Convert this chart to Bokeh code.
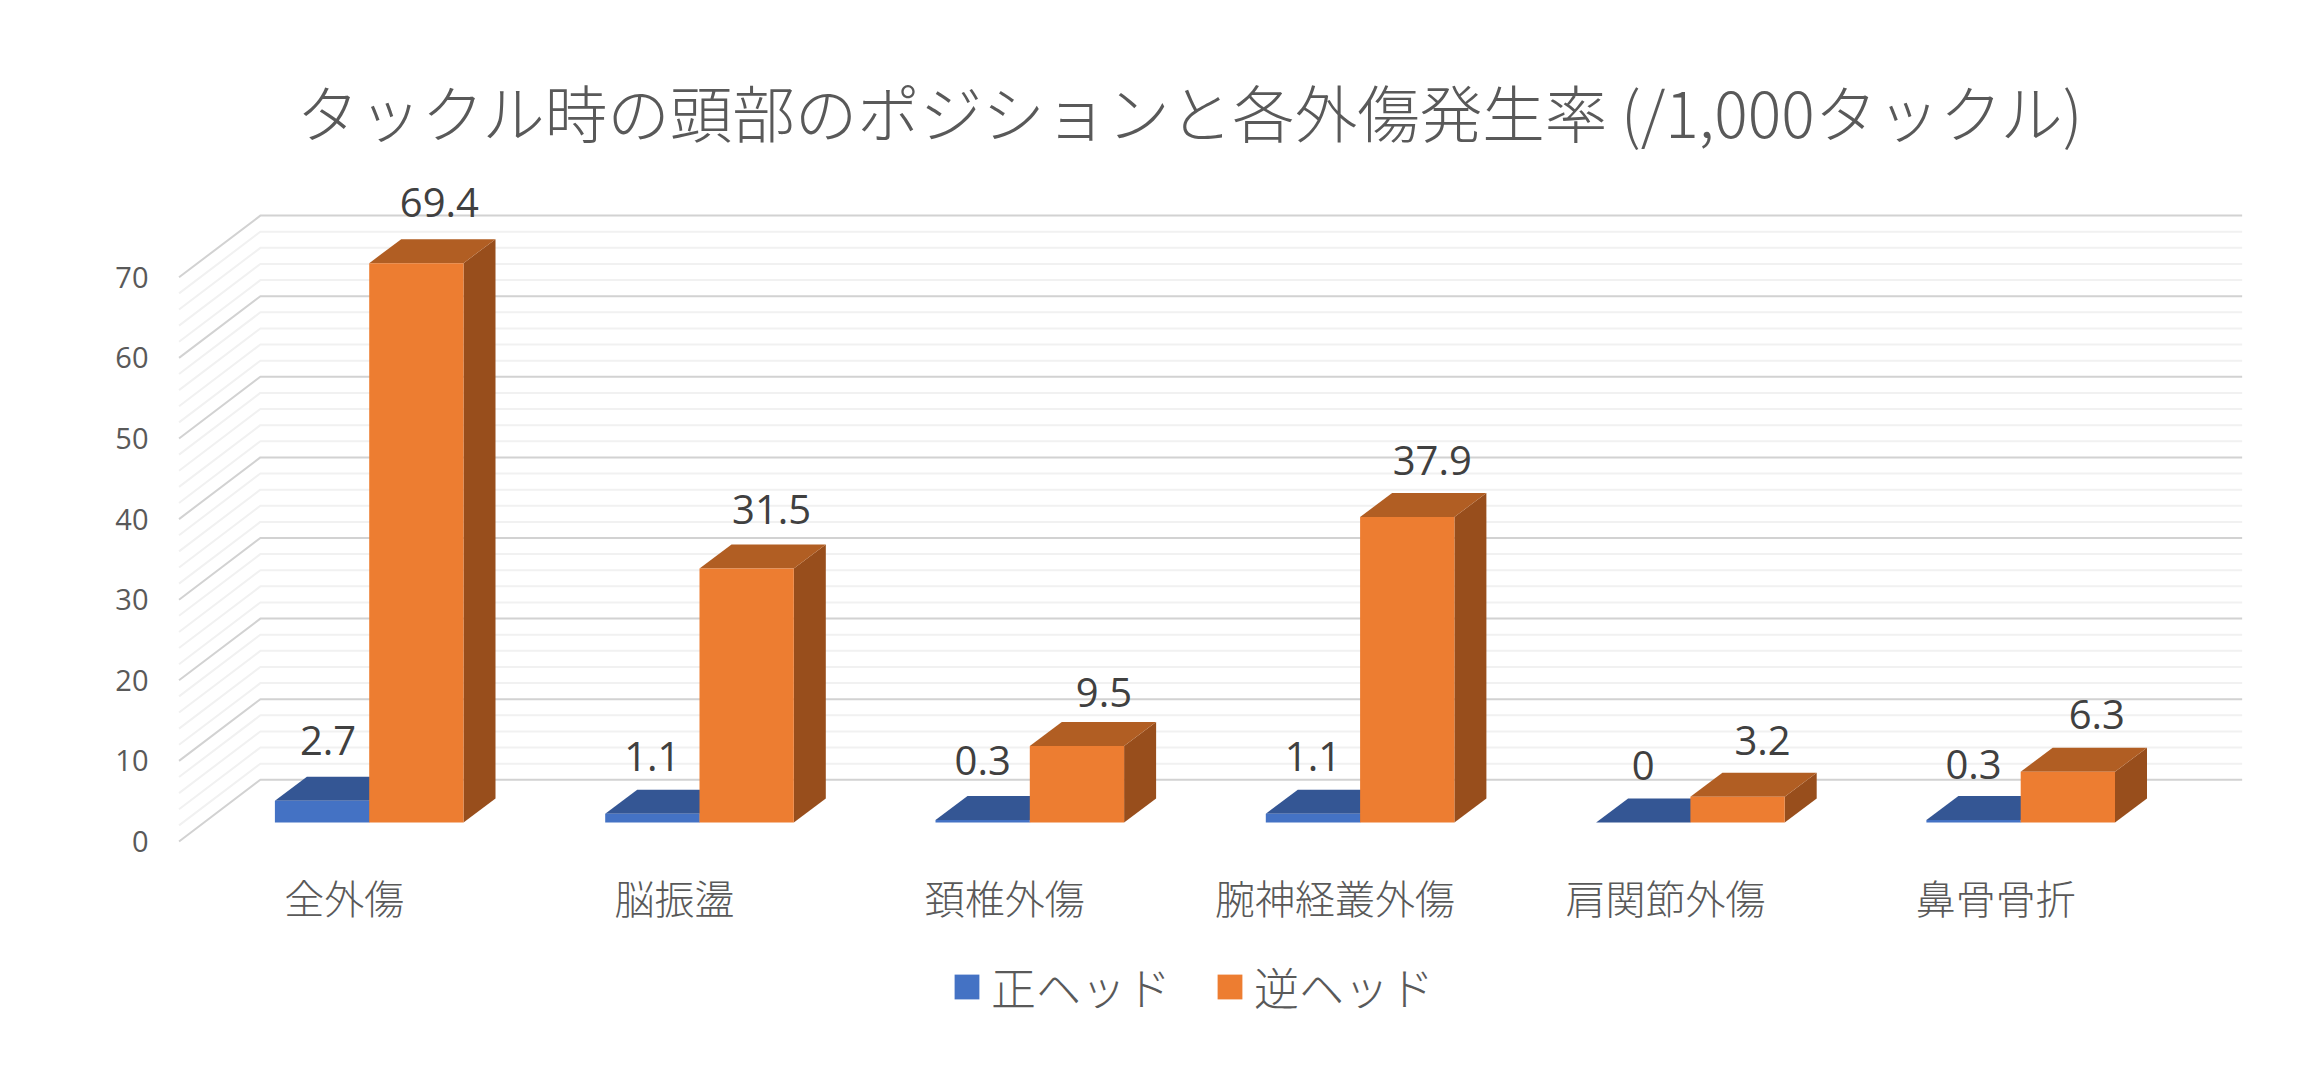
from bokeh.plotting import figure
from bokeh.models import Range1d, LinearAxis, FixedTicker, Legend, LegendItem, ColumnDataSource
from bokeh.core.properties import value
from bokeh.embed import file_html
from bokeh.resources import INLINE

# ---- data ----
TITLE = "タックル時の頭部のポジションと各外傷発生率 (/1,000タックル)"
categories = ["全外傷", "脳振盪", "頚椎外傷", "腕神経叢外傷", "肩関節外傷", "鼻骨骨折"]
series_names = ["正ヘッド", "逆ヘッド"]
forward_head = [2.7, 1.1, 0.3, 1.1, 0.0, 0.3]
reverse_head = [69.4, 31.5, 9.5, 37.9, 3.2, 6.3]
major_ticks = [0, 10, 20, 30, 40, 50, 60, 70]
minor_ticks = [v for v in range(0, 71, 2) if v % 10 != 0]

# ---- style / projection ----
BLUE, BLUE_TOP = "#4472C4", "#345694"
ORANGE, ORANGE_TOP, ORANGE_SIDE = "#ED7D31", "#B15E23", "#984E1C"
CJK = "Noto Sans CJK JP"
LATIN = "Open Sans"
PX_CAT, PX_VAL = 330.3, 8.06          # px per category, px per value unit
X0_REF, Y0_REF = 368.7, 822.0         # page position of category 0 / value 0 on the bars' front plane
F_L, F_R, F_T, F_B = 160, 2271, 165, 1045   # frame on the page
BAR_W = 94.3 / PX_CAT


def dx(px):
    return px / PX_CAT


def dy(px):
    return px / PX_VAL


x_rng = Range1d((F_L - X0_REF) / PX_CAT, (F_R - X0_REF) / PX_CAT)
y_rng = Range1d((Y0_REF - F_B) / PX_VAL, (Y0_REF - F_T) / PX_VAL)

p = figure(frame_width=F_R - F_L, frame_height=F_B - F_T, x_range=x_rng, y_range=y_rng, output_backend="svg",
           toolbar_location=None, tools="", x_axis_location=None, y_axis_location=None,
           min_border_left=F_L, min_border_right=12, min_border_top=F_T,
           min_border_bottom=16, outline_line_color=None, background_fill_color="white")
p.grid.visible = False

p.title.text = TITLE
p.title.text_font = CJK + " Light, " + CJK
p.title.text_font_size = "62.5px"
p.title.text_font_style = "normal"
p.title.text_color = "#595959"
p.title.align = "left"
p.title.offset = 136
p.title.standoff = 20

# ---- walls: gridlines on side wall + back wall ----
BACK_DX, BACK_DY = dx(56.3), dy(42.7)
FRONT_DX, FRONT_DY = dx(-25.0), dy(-19.0)


def wall(ticks, color):
    xs, ys = [], []
    for v in ticks:
        xl = -0.5 + FRONT_DX
        xb = -0.5 + BACK_DX
        xs.append([xl, xb, xb + 6])
        ys.append([v + FRONT_DY, v + BACK_DY, v + BACK_DY])
    p.multi_line(xs, ys, line_color=color, line_width=2)


wall(minor_ticks, "#F1F1F1")
wall(major_ticks, "#D2D2D2")

# ---- 3-D bars ----
D_X, D_Y = dx(32), dy(24)


def bar_parts(values, left_shift):
    left = [i + left_shift for i in range(len(values))]
    right = [l + BAR_W for l in left]
    front = dict(l=left, r=right, t=list(values), b=[0] * len(values))
    top = ([[l, r, r + D_X, l + D_X] for l, r in zip(left, right)],
           [[v, v, v + D_Y, v + D_Y] for v in values])
    side = ([[r, r + D_X, r + D_X, r] for r in right],
            [[0, D_Y, v + D_Y, v] for v in values])
    return front, top, side


fb, tb, sb = bar_parts(forward_head, -BAR_W)
fo, to, so = bar_parts(reverse_head, 0)

p.patches(sb[0], sb[1], fill_color="#2A4A80", line_color=None)
p.patches(tb[0], tb[1], fill_color=BLUE_TOP, line_color=None)
blue_r = p.quad(left=fb["l"], right=fb["r"], top=fb["t"], bottom=fb["b"], fill_color=BLUE, line_color=None)
p.patches(so[0], so[1], fill_color=ORANGE_SIDE, line_color=None)
p.patches(to[0], to[1], fill_color=ORANGE_TOP, line_color=None)
orange_r = p.quad(left=fo["l"], right=fo["r"], top=fo["t"], bottom=fo["b"], fill_color=ORANGE, line_color=None)

# ---- data labels ----
blue_nudge_x = [6, 0, 0, 0, 0, 0]
orange_nudge_x = [-2, 0, 2, 0, 0, 4]
blue_lift = [36, 33, 36, 33, 33, 32]
orange_lift = [37, 35, 29, 33, 32, 33]
lab_x = [i - BAR_W / 2 for i in range(6)] + [i + BAR_W / 2 + dx(25) for i in range(6)]
lab_y = [v + D_Y for v in forward_head] + [v + D_Y for v in reverse_head]
lab_t = [f"{v:g}" for v in forward_head] + [f"{v:g}" for v in reverse_head]
x_off = blue_nudge_x + orange_nudge_x
y_off = [-n for n in blue_lift] + [-n for n in orange_lift]
src = ColumnDataSource(dict(x=lab_x, y=lab_y, t=lab_t, xo=x_off, yo=y_off))
p.text("x", "y", text="t", source=src, x_offset="xo", y_offset="yo", text_align="center",
       text_baseline="alphabetic", text_font=value(LATIN), text_font_size="40px", text_color="#404040")

# ---- axes (on the floor's front plane) ----
p.extra_y_ranges["front"] = Range1d(y_rng.start - FRONT_DY, y_rng.end - FRONT_DY)
p.extra_x_ranges["front"] = Range1d(x_rng.start + dx(25), x_rng.end + dx(25))

yax = LinearAxis(y_range_name="front", ticker=FixedTicker(ticks=major_ticks))
yax.axis_line_color = None
yax.major_tick_line_color = None
yax.minor_tick_line_color = None
yax.major_label_text_font = LATIN
yax.major_label_text_font_size = "29px"
yax.major_label_text_color = "#595959"
yax.major_label_standoff = 6
p.add_layout(yax, "left")

xax = LinearAxis(x_range_name="front", ticker=FixedTicker(ticks=list(range(6))),
                 major_label_overrides={i: c for i, c in enumerate(categories)})
xax.axis_line_color = None
xax.major_tick_line_color = None
xax.minor_tick_line_color = None
xax.major_label_text_font = CJK + " Light, " + CJK
xax.major_label_text_font_size = "40px"
xax.major_label_text_color = "#595959"
xax.major_label_standoff = -184
p.add_layout(xax, "below")

# ---- legend ----
legend = Legend(items=[LegendItem(label=value(series_names[0]), renderers=[blue_r]),
                       LegendItem(label=value(series_names[1]), renderers=[orange_r])],
                orientation="horizontal", location=(791, 26),
                border_line_color=None, background_fill_alpha=0, glyph_width=31, glyph_height=31,
                label_text_font=CJK + " Light, " + CJK, label_text_font_size="45px",
                label_text_color="#595959", spacing=43, padding=0, margin=0, label_standoff=9)
p.add_layout(legend, "center")

html = file_html(p, INLINE)
open("out.html", "w").write(html)
